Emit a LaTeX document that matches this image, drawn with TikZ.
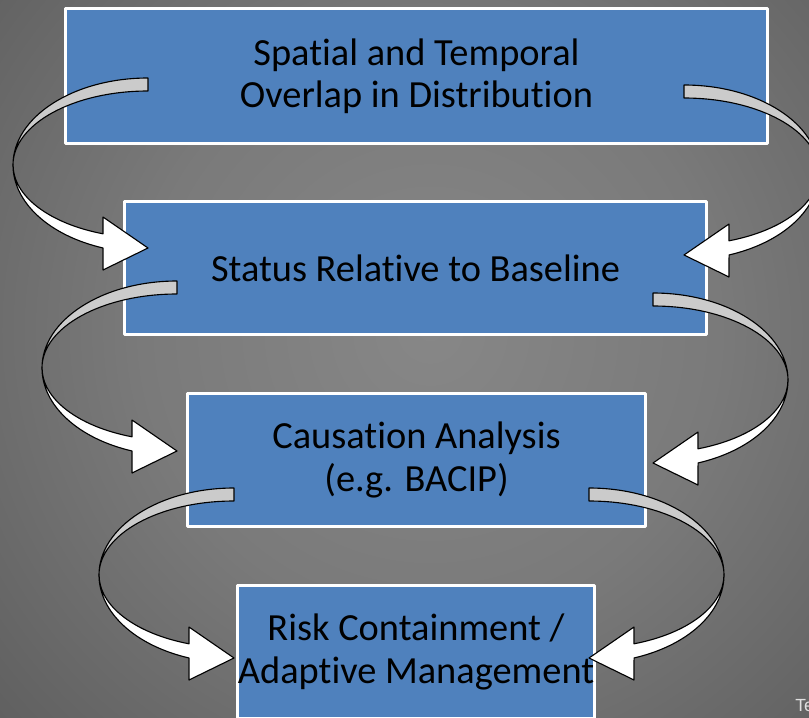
\documentclass[tikz,border=0pt]{standalone}
\usepackage{fontspec}
\setmainfont{Carlito}[Ligatures=NoCommon, Contextuals=NoAlternate]
\newfontfamily\notefont{Liberation Sans}

\definecolor{boxblue}{HTML}{4F81BD}
\definecolor{bandgray}{HTML}{CBCBCB}
\definecolor{bgcenter}{HTML}{878787}
\definecolor{bgin}{HTML}{7A7A7A}
\definecolor{bgmid}{HTML}{5C5C5C}
\definecolor{bgedge}{HTML}{494949}
\definecolor{bgcorner}{HTML}{363636}

% slide background: light in the middle, dark at the corners
\pgfdeclareradialshading{slideglow}{\pgfpoint{0bp}{0bp}}{%
  color(0bp)=(bgcenter); color(12bp)=(bgin); color(26bp)=(bgmid);
  color(34bp)=(bgedge); color(43bp)=(bgcorner); color(71bp)=(bgcorner)}

\begin{document}
\begin{tikzpicture}[x=0.025cm, y=0.025cm, line join=round]

	% Styles
	\tikzset{
		stagebox/.style={draw=white, line width=2pt, fill=boxblue, text=black,
			align=center, inner sep=0pt, font=\fontsize{27.3}{30}\selectfont},
		bandback/.style={draw=black, line width=0.8pt, fill=bandgray},
		bandfront/.style={draw=black, line width=0.8pt, fill=white}
	}

	\useasboundingbox (0,0) rectangle (809,-717);
	\clip (0,0) rectangle (809,-717);

	%======================
	% BACKGROUND
	%======================
	\shade[shading=slideglow] (-170,270) rectangle (1030,-930);

	%======================
	% STAGES
	%======================
	\node[stagebox, minimum width=17.55cm, minimum height=3.38cm] (overlap) at (416.5,-76)
		{Spatial and Temporal\\Overlap in Distribution};
	\node[stagebox, minimum width=14.55cm, minimum height=3.33cm] (status) at (415.5,-268)
		{Status Relative to Baseline};
	\node[stagebox, minimum width=11.45cm, minimum height=3.33cm] (causation) at (416.5,-460)
		{Causation Analysis\\(e.g. BACIP)};
	\node[stagebox, minimum width=8.88cm, minimum height=3.33cm] (risk) at (416,-652)
		{Risk Containment /\\Adaptive Management};

	%======================
	% CURVED ARROWS (tail x / tail top y / side)
	%======================
	\foreach \x/\y/\s in {148/78/-1, 684/85/1, 177/281/-1, 653/293/1, 234/488/-1, 589/488/1}{
		\begin{scope}[shift={(\x,-\y)}, xscale=\s]
			% back of the band
			\draw[bandback] (0,0) arc[start angle=90, end angle=0, x radius=135, y radius=87]
				arc[start angle=0, end angle=90, x radius=135, y radius=74] -- cycle;
			% front of the band with the head
			\draw[bandfront] (135,-87) arc[start angle=0, end angle=-70.5, x radius=135, y radius=88]
				-- (45,-192) -- (0,-170) -- (45,-139) -- (45,-155.8)
				arc[start angle=-70.5, end angle=0, x radius=135, y radius=73] -- cycle;
		\end{scope}
	}

	% cut-off note at the corner
	\node[anchor=base west, inner sep=0pt, text=white!88!black, font=\notefont\fontsize{12.5}{14}\selectfont]
		(note) at (795,-711) {Te};
\end{tikzpicture}
\end{document}
